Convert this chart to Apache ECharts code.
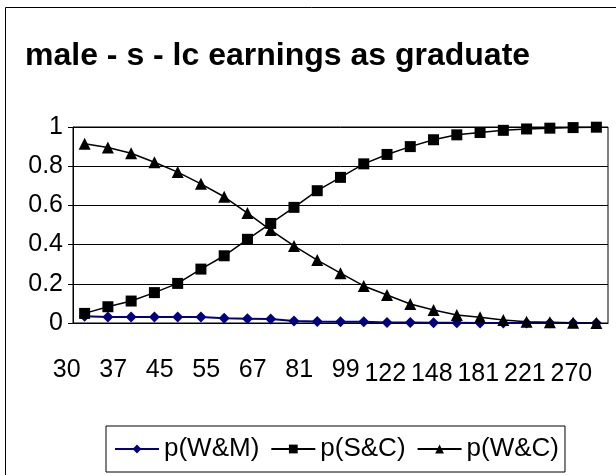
<!DOCTYPE html>
<html>
<head>
<meta charset="utf-8">
<script src="https://cdn.jsdelivr.net/npm/echarts@6/dist/echarts.min.js"></script>
<style>
  html, body { margin: 0; padding: 0; background: #fff; }
  #chart { width: 616px; height: 475px; }
</style>
</head>
<body>
<div id="chart"></div>
<script>
// earnings categories (only every other one is labelled on the axis)
let earnings = ['30', '33', '37', '41', '45', '50', '55', '61', '67', '74', '81', '90',
    '99', '110', '122', '134', '148', '164', '181', '200', '221', '245', '270'];

let pWM = [0.035, 0.03, 0.03, 0.03, 0.03, 0.03, 0.024, 0.022, 0.02, 0.01, 0.008, 0.007,
    0.006, 0.003, 0.002, 0.001, 0.001, 0, 0, 0, 0, 0, 0];
let pSC = [0.049, 0.083, 0.112, 0.155, 0.202, 0.275, 0.343, 0.427, 0.508, 0.59, 0.675, 0.743,
    0.812, 0.86, 0.9, 0.935, 0.96, 0.972, 0.983, 0.99, 0.994, 0.997, 0.999];
let pWC = [0.915, 0.895, 0.866, 0.82, 0.77, 0.71, 0.644, 0.561, 0.474, 0.393, 0.321, 0.254,
    0.189, 0.143, 0.097, 0.066, 0.041, 0.029, 0.015, 0.007, 0.004, 0.001, 0];

let yTicks = [0, 0.2, 0.4, 0.6, 0.8, 1];

let font = 'Arial, "Liberation Sans", sans-serif';

let chart = echarts.init(document.getElementById('chart'));
let option = {
    animation: false,
    backgroundColor: '#fff',
    textStyle: { fontFamily: font },
    graphic: [{
        type: 'rect',
        shape: { x: 5.5, y: 7.5, width: 700, height: 600 },
        style: { fill: 'none', stroke: '#000', lineWidth: 1 },
        silent: true
    }],
    title: {
        text: 'male - s - lc earnings as graduate',
        left: 20,
        top: 35,
        textStyle: {
            fontFamily: font,
            fontSize: 32,
            fontWeight: 'bold',
            color: '#000'
        }
    },
    grid: {
        left: 73,
        right: 8,
        top: 127,
        bottom: 152,
        show: true,
        borderColor: '#000',
        borderWidth: 1,
        containLabel: false
    },
    xAxis: {
        type: 'category',
        data: earnings,
        boundaryGap: true,
        axisLine: { lineStyle: { color: '#000', width: 1 } },
        axisTick: {
            interval: 0,
            length: 7,
            lineStyle: { color: '#000' }
        },
        axisLabel: {
            interval: 1,
            margin: 35,
            color: '#000',
            fontSize: 25,
            formatter: function (value) {
                return value.length > 2 ? '{b|' + value + '}' : '{a|' + value + '}';
            },
            rich: {
                a: { fontSize: 25, padding: [0, 36, 0, 0], color: '#000' },
                b: { fontSize: 25, padding: [4, 50, 0, 0], color: '#000' }
            }
        }
    },
    yAxis: {
        type: 'value',
        min: yTicks[0],
        max: yTicks[yTicks.length - 1],
        interval: 0.2,
        axisLine: { show: true, lineStyle: { color: '#000', width: 1 } },
        axisTick: { show: true, length: 5, lineStyle: { color: '#000' } },
        axisLabel: {
            color: '#000',
            fontSize: 25,
            margin: 10,
            formatter: function (v) { return String(Math.round(v * 10) / 10); }
        },
        splitLine: { show: true, lineStyle: { color: '#000', width: 1 } }
    },
    legend: {
        left: 106,
        top: 426,
        width: 480,
        padding: [10, 6, 10, 8],
        borderColor: '#000',
        borderWidth: 1,
        itemWidth: 44,
        itemHeight: 11,
        itemGap: 11,
        textStyle: { fontSize: 26, color: '#000', fontFamily: font },
        data: ['p(W&M)', 'p(S&C)', 'p(W&C)']
    },
    series: [{
        name: 'p(W&M)',
        type: 'line',
        data: pWM,
        symbol: 'diamond',
        symbolSize: 11,
        lineStyle: { color: '#000080', width: 2 },
        itemStyle: { color: '#000080' }
    }, {
        name: 'p(S&C)',
        type: 'line',
        data: pSC,
        symbol: 'rect',
        symbolSize: 11,
        lineStyle: { color: '#000', width: 1.5 },
        itemStyle: { color: '#000' }
    }, {
        name: 'p(W&C)',
        type: 'line',
        data: pWC,
        symbol: 'triangle',
        symbolSize: 12,
        lineStyle: { color: '#000', width: 1.5 },
        itemStyle: { color: '#000' }
    }]
};
chart.setOption(option);
</script>
</body>
</html>
